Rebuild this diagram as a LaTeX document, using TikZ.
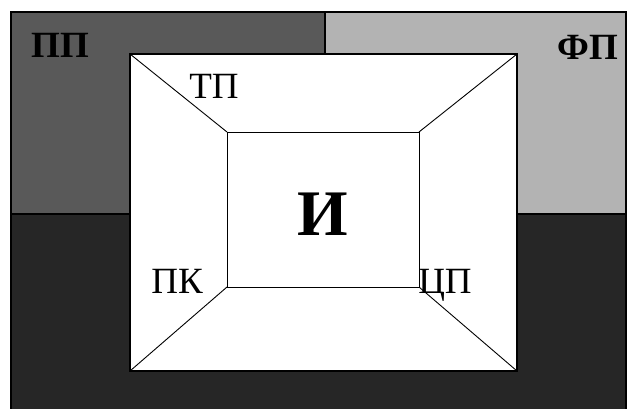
\documentclass[tikz,border=0pt]{standalone}
\usepackage{fontspec}
\setmainfont{Liberation Serif}
\begin{document}
\begin{tikzpicture}[x=1pt,y=-1pt,
  lbl/.style={anchor=base,inner sep=0pt,font=\fontsize{37}{40}\selectfont},
  blbl/.style={lbl,font=\fontsize{37}{40}\selectfont\bfseries},
  edge/.style={draw=black,line width=1.2pt}]
\useasboundingbox (0,0) rectangle (627,409);
\clip (0,0) rectangle (627,409);
% background quadrants
\fill[fill={rgb,255:red,89;green,89;blue,89}] (11,12) rectangle (325,214);
\fill[fill={rgb,255:red,179;green,179;blue,179}] (325,12) rectangle (626,214);
\fill[fill={rgb,255:red,38;green,38;blue,38}] (11,214) rectangle (626,412);
\draw[edge] (325,12) -- (325,214);
\draw[edge] (11,214) -- (626,214);
\draw[edge] (11,12) rectangle (626,412);
% pyramid
\coordinate (o1) at (130,54);
\coordinate (o2) at (517,54);
\coordinate (o3) at (517,371);
\coordinate (o4) at (130,371);
\coordinate (i1) at (227,132);
\coordinate (i2) at (419,132);
\coordinate (i3) at (419,287);
\coordinate (i4) at (227,287);
\filldraw[fill=white,edge] (o1) -- (o2) -- (o3) -- (o4) -- cycle;
\draw[edge,line width=0.9pt] (i1) -- (i2) -- (i3) -- (i4) -- cycle;
\draw[edge,line width=0.9pt] (o1) -- (i1) (o2) -- (i2) (o3) -- (i3) (o4) -- (i4);
% labels
\node[blbl] (pp) at (60,58) {ПП};
\node[blbl] (fp) at (588,60) {ФП};
\node[lbl] (tp) at (214,99) {ТП};
\node[lbl] (pk) at (177,293) {ПК};
\node[lbl] (cp) at (445,293) {ЦП};
\node[lbl,font=\fontsize{65}{70}\selectfont\bfseries] (i) at (323,235) {И};
\end{tikzpicture}
\end{document}
